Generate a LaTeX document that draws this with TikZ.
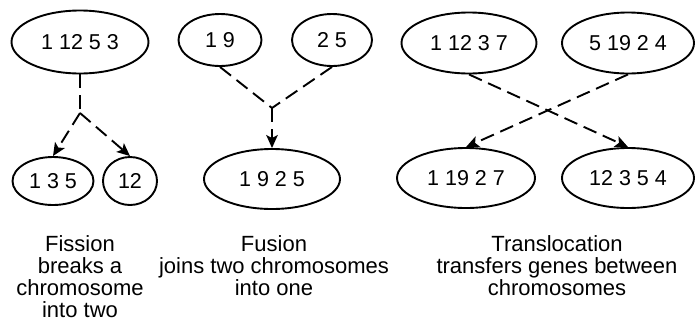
\documentclass[tikz,border=0pt]{standalone}
\usepackage{fontspec}
\setmainfont{Liberation Sans}
\usetikzlibrary{shapes.geometric,arrows.meta}
\begin{document}
\begin{tikzpicture}[x=1pt,y=-1pt,
  chrom/.style={draw,ellipse,line width=1.9pt,inner sep=0pt,minimum width=#1,font=\fontsize{21.5}{22}\selectfont},
  link/.style={line width=1.9pt,dash pattern=on 14pt off 7pt},
  arr/.style={link,-{Stealth[length=13pt,width=11.5pt,inset=3pt]}},
  lbl/.style={align=center,inner sep=0pt,font=\fontsize{22}{22}\selectfont,anchor=north}]
\useasboundingbox (0,0) rectangle (695,322);
% Fission
\node[chrom=137pt,minimum height=63pt] (a) at (80,42) {1 12 5 3};
\node[chrom=81pt,minimum height=48pt] (a1) at (53,181) {1 3 5};
\node[chrom=54pt,minimum height=48pt] (a2) at (130,181) {12};
\coordinate (aj) at (80,113);
\draw[link] (a.south) -- (aj);
\draw[arr] (aj) -- (a1.north);
\draw[arr] (aj) -- (a2.north);
% Fusion
\node[chrom=83pt,minimum height=52pt] (f1) at (220,40) {1 9};
\node[chrom=80pt,minimum height=52pt] (f2) at (332,40) {2 5};
\node[chrom=136pt,minimum height=60pt] (f3) at (272,179) {1 9 2 5};
\coordinate (fj) at (272,108);
\draw[link] (f1.south) -- (fj);
\draw[link] (f2.south) -- (fj);
\draw[arr] (fj) -- (f3.north);
% Translocation
\node[chrom=135pt,minimum height=61pt] (t1) at (469,43) {1 12 3 7};
\node[chrom=132pt,minimum height=61pt] (t2) at (628,43) {5 19 2 4};
\node[chrom=138pt,minimum height=60pt] (t3) at (466,178) {1 19 2 7};
\node[chrom=132pt,minimum height=60pt] (t4) at (628,178) {12 3 5 4};
\draw[arr] (t1.south) -- (t4.north);
\draw[arr] (t2.south) -- (t3.north);
% Labels
\node[lbl] (la) at (80,235) {Fission\\breaks a\\chromosome\\into two};
\node[lbl] (lf) at (274,235) {Fusion\\joins two chromosomes\\into one};
\node[lbl] (lt) at (557,235) {Translocation\\transfers genes between\\chromosomes};
\end{tikzpicture}
\end{document}
